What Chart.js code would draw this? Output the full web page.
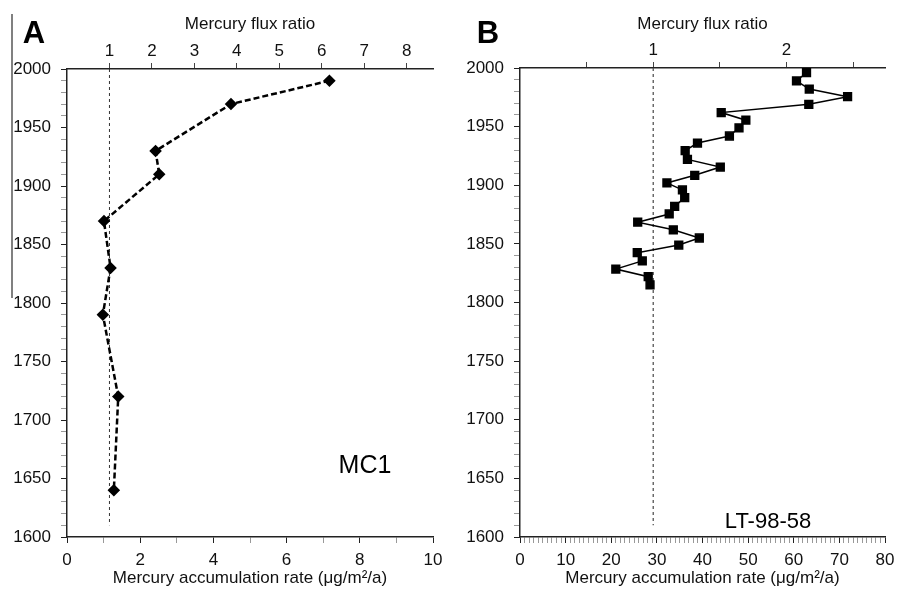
<!DOCTYPE html>
<html>
<head>
<meta charset="utf-8">
<script src="https://cdn.jsdelivr.net/npm/chart.js@4.4.1/dist/chart.umd.min.js"></script>
<style>
  html, body { margin: 0; padding: 0; background: #fff; }
  .panel { position: absolute; top: 0; height: 592px; }
  #panelA { left: 0; width: 448px; }
  #panelB { left: 448px; width: 449px; }
</style>
</head>
<body>
<div id="panelA" class="panel"><canvas id="chartA"></canvas></div>
<div id="panelB" class="panel"><canvas id="chartB"></canvas></div>
<script>
// Core MC1 - years and mercury accumulation rate (ug/m2/a)
const yearsA = [1990, 1970, 1930, 1910, 1870, 1830, 1790, 1720, 1640];
const ratesA = [7.17, 4.48, 2.42, 2.52, 1.01, 1.19, 0.98, 1.40, 1.28];
const baselineA = 1.16;   // rate that equals a flux ratio of 1

// Core LT-98-58
const yearsB = [1996, 1989, 1982, 1975.5, 1969, 1962, 1955.5, 1949, 1942, 1936,
                1929.5, 1922, 1915.5, 1908.5, 1902, 1896, 1889.5, 1882, 1875.5, 1868.5,
                1862, 1855, 1849, 1842.5, 1835.5, 1828.5, 1822, 1815];
const ratesB = [62.8, 60.6, 63.4, 71.8, 63.3, 44.1, 49.5, 48.0, 45.9, 38.9,
                36.2, 36.7, 43.9, 38.3, 32.2, 35.6, 36.1, 33.9, 32.7, 25.8,
                33.6, 39.3, 34.8, 25.7, 26.8, 21.0, 28.1, 28.5];
const baselineB = 29.2;

// baseline dashed line runs from the top down to this year
const baselineYears = [2000, 1610];

const yearMin = 1600, yearMax = 2000;
const yearStep = 10, yearLabelStep = 50;

Chart.defaults.font.family = "'Liberation Sans', Arial, sans-serif";
Chart.defaults.font.size = 17;
Chart.defaults.color = '#111';

// draws panel letter, core name and the grey margin line
const panelText = {
    id: 'panelText',
    afterDraw(chart, args, opts) {
        const ctx = chart.ctx;
        ctx.save();
        ctx.fillStyle = '#000';
        ctx.textAlign = 'center';
        ctx.textBaseline = 'middle';
        ctx.font = "bold 31px 'Liberation Sans', Arial, sans-serif";
        ctx.fillText(opts.letter, opts.letterX, opts.letterY);
        ctx.font = opts.nameFont;
        ctx.fillText(opts.name, opts.nameX, opts.nameY);
        if (opts.marginLine) {
            ctx.strokeStyle = '#808080';
            ctx.lineWidth = 2;
            ctx.beginPath();
            ctx.moveTo(12, 14);
            ctx.lineTo(12, 298);
            ctx.stroke();
        }
        ctx.restore();
    }
};

function makePanel(canvasId, p) {
    const ctx = document.getElementById(canvasId).getContext('2d');
    const series = p.years.map((y, i) => ({ x: p.rates[i], y: y }));
    const baseline = baselineYears.map(y => ({ x: p.baseline, y: y }));

    return new Chart(ctx, {
        type: 'scatter',
        data: {
            datasets: [
                {
                    data: series,
                    showLine: true,
                    borderColor: '#000',
                    backgroundColor: '#000',
                    borderWidth: p.lineWidth,
                    borderDash: p.dash,
                    pointStyle: p.marker,
                    pointRadius: p.markerRadius,
                    pointHoverRadius: p.markerRadius,
                    order: 0
                },
                {
                    data: baseline,
                    showLine: true,
                    borderColor: p.baseColor,
                    borderWidth: p.baseWidth,
                    borderDash: [3, 3],
                    pointRadius: 0,
                    order: 1
                }
            ]
        },
        options: {
            responsive: true,
            maintainAspectRatio: false,
            animation: false,
            layout: { padding: { left: 0, right: p.rightPad, top: 0, bottom: 0 } },
            plugins: {
                legend: { display: false },
                tooltip: { enabled: false },
                panelText: p.text
            },
            scales: {
                x: {
                    type: 'linear',
                    position: 'bottom',
                    min: 0,
                    max: p.rateMax,
                    afterFit: s => {
                        s.height = 592 - p.bottomY;
                        s.paddingLeft = 0;
                        s.paddingRight = 0;
                    },
                    border: { color: '#222', width: 1.5 },
                    grid: {
                        drawOnChartArea: false,
                        tickLength: 6,
                        tickColor: c => (c.tick && c.tick.value % p.rateLabelStep === 0) ? '#222' : '#999'
                    },
                    ticks: {
                        stepSize: p.rateStep,
                        autoSkip: false,
                        maxRotation: 0,
                        padding: 7,
                        color: '#111',
                        callback: v => (v % p.rateLabelStep === 0) ? v : ''
                    },
                    title: {
                        display: true,
                        text: 'Mercury accumulation rate (μg/m²/a)',
                        color: '#111',
                        font: { size: 17 },
                        padding: { top: 0, bottom: 3 }
                    }
                },
                x2: {
                    type: 'linear',
                    position: 'top',
                    min: 0,
                    max: p.rateMax / p.baseline,
                    afterFit: s => {
                        s.height = p.topY;
                        s.paddingLeft = 0;
                        s.paddingRight = 0;
                    },
                    border: { color: '#222', width: 1.5 },
                    grid: {
                        drawOnChartArea: false,
                        tickLength: 6,
                        tickColor: c => (c.tick && c.tick.value === 0) ? 'rgba(0,0,0,0)' : '#444'
                    },
                    ticks: {
                        stepSize: p.ratioStep,
                        includeBounds: false,
                        autoSkip: false,
                        maxRotation: 0,
                        padding: 1,
                        color: '#111',
                        callback: v => (v > 0 && Number.isInteger(v)) ? v : ''
                    },
                    title: {
                        display: true,
                        text: 'Mercury flux ratio',
                        color: '#111',
                        font: { size: 17 },
                        padding: { top: 14, bottom: 0 }
                    }
                },
                y: {
                    type: 'linear',
                    min: yearMin,
                    max: yearMax,
                    afterFit: s => {
                        s.width = p.leftW;
                        s.paddingTop = 0;
                        s.paddingBottom = 0;
                    },
                    border: { color: '#222', width: 1.5 },
                    grid: {
                        drawOnChartArea: false,
                        tickLength: 6,
                        tickColor: c => (c.tick && c.tick.value % yearLabelStep === 0) ? '#222' : '#999'
                    },
                    ticks: {
                        stepSize: yearStep,
                        autoSkip: false,
                        padding: 10,
                        color: '#111',
                        callback: v => (v % yearLabelStep === 0) ? v : ''
                    }
                }
            }
        },
        plugins: [panelText]
    });
}

makePanel('chartA', {
    years: yearsA, rates: ratesA, baseline: baselineA,
    rateMax: 10, rateStep: 1, rateLabelStep: 2, ratioStep: 1,
    lineWidth: 2.5, dash: [6, 3], marker: 'rectRot', markerRadius: 4.5,
    baseColor: '#333', baseWidth: 1,
    leftW: 67, topY: 69, bottomY: 537, rightPad: 15,
    text: {
        letter: 'A', letterX: 34, letterY: 34,
        name: 'MC1', nameX: 365, nameY: 466,
        nameFont: "25px 'Liberation Sans', Arial, sans-serif",
        marginLine: true
    }
});

makePanel('chartB', {
    years: yearsB, rates: ratesB, baseline: baselineB,
    rateMax: 80, rateStep: 1, rateLabelStep: 10, ratioStep: 0.5,
    lineWidth: 1.5, dash: [], marker: 'rect', markerRadius: 5.5,
    baseColor: '#555', baseWidth: 1.3,
    leftW: 72, topY: 68, bottomY: 537, rightPad: 12,
    text: {
        letter: 'B', letterX: 40, letterY: 34,
        name: 'LT-98-58', nameX: 320, nameY: 522,
        nameFont: "22px 'Liberation Sans', Arial, sans-serif",
        marginLine: false
    }
});
</script>
</body>
</html>
